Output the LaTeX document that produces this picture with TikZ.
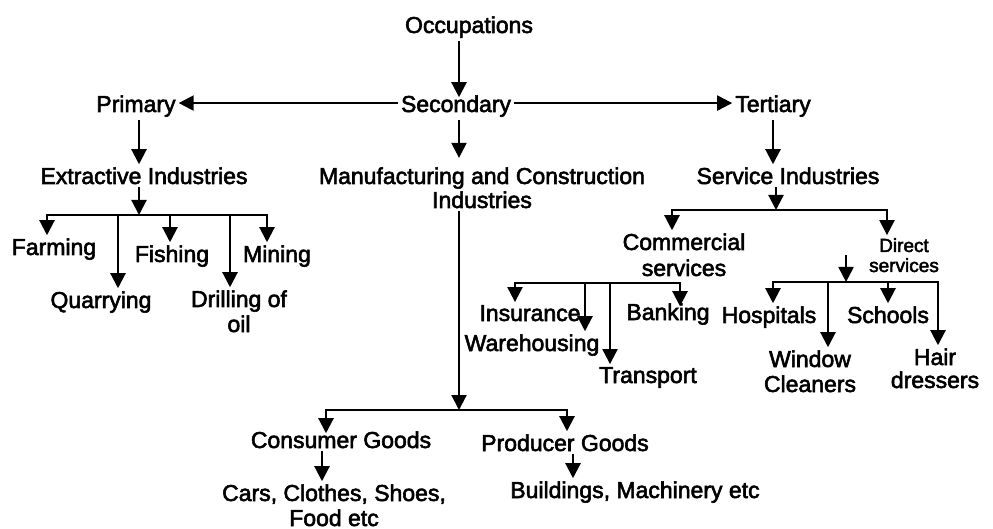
\documentclass[tikz,border=0pt]{standalone}
\usepackage{fontspec}
\setmainfont{Liberation Sans}[UprightFeatures={FakeBold=2.5}]
\usetikzlibrary{arrows.meta}

\begin{document}
\begin{tikzpicture}[
	x=1pt,y=-1pt,
	>={Triangle[width=15pt,length=15pt]},
	line width=2.2pt,
	every node/.style={
		inner sep=2pt, % labels sit on the baseline of their last line
		anchor=base,
		align=center,
		font=\fontsize{23}{25}\selectfont,
	},
	small/.style={font=\fontsize{19}{20}\selectfont},
]
	\useasboundingbox (0,0) rectangle (993,529);

	\node (occ)  at (469,33)  {Occupations};
	\node (prim) at (136,112) {Primary};
	\node (sec)  at (456,112) {Secondary};
	\node (tert) at (773,112) {Tertiary};

	\node (extr) at (144,184) {Extractive Industries};
	\node (manu) at (482,208) [font=\fontsize{23}{24}\selectfont]
		{Manufacturing and Construction\\Industries};
	\node (serv) at (788,184) {Service Industries};

	\node (farm) at (54,255)  {Farming};
	\node (quar) at (101,308) {Quarrying};
	\node (fish) at (172,262) {Fishing};
	\node (dril) at (239,332) {Drilling of\\oil};
	\node (mine) at (277,262) {Mining};

	\node (comm) at (684,276) [font=\fontsize{23}{26}\selectfont]
		{Commercial\\services};
	\node (dirc) at (904,272) [small] {Direct\\services};
	\node (insu) at (530,321) {Insurance};
	\node (ware) at (532,351) {Warehousing};
	\node (tran) at (648,383) {Transport};
	\node (bank) at (668,320) {Banking};
	\node (hosp) at (769,323) {Hospitals};
	\node (wind) at (810,392) {Window\\Cleaners};
	\node (scho) at (888,323) {Schools};
	\node (hair) at (935,388) [font=\fontsize{23}{23}\selectfont]
		{Hair\\dressers};

	\node (cons) at (341,448) {Consumer Goods};
	\node (prod) at (565,451) {Producer Goods};
	\node (cars) at (334,526) {Cars, Clothes, Shoes,\\Food etc};
	\node (buil) at (635,498) {Buildings, Machinery etc};

	% branching points
	\coordinate (mb) at (459,410);
	\coordinate (eb) at (139,215);
	\coordinate (sb) at (776,210);
	\coordinate (cb) at (597,283);
	\coordinate (db) at (848,282);

	\draw[->] (occ.south -| mb) -- ([yshift=-5pt]sec.north -| mb);
	\draw[->] ([yshift=3pt]sec.west) -- ([yshift=3pt]sec.west -| prim.east);
	\draw[->] ([yshift=3pt]sec.east) -- ([yshift=3pt]sec.east -| tert.west);
	\draw[->] (prim.south -| eb) -- (extr.north -| eb);
	\draw[->] (sec.south -| mb) -- ++(0,38);
	\draw[->] (tert.south) -- (tert.south |- serv.north);

	\draw[->] (extr.south -| eb) -- (eb);
	\foreach \n/\s in {farm/-7,quar/17,fish/-2,dril/-9,mine/-10}
		\draw[->] (eb) -| ([xshift=\s pt]\n.north);

	\draw[->] (manu.south -| mb) -- (mb);
	\draw[->] (mb) -| ([xshift=-15pt,yshift=-5pt]cons.north);
	\draw[->] (mb) -| ([xshift=2pt]prod.north);
	\draw[->] ([xshift=-19pt]cons.south) -- ([xshift=-19pt]cons.south |- cars.north);
	\draw[->] ([xshift=8pt]prod.south) -- ([xshift=8pt]prod.south |- buil.north);

	\draw[->] (serv.south -| sb) -- (sb);
	\draw[->] (sb) -| ([xshift=-12pt]comm.north);
	\draw[->] (sb) -| ([xshift=-17pt]dirc.north);

	\foreach \n/\s in {insu/-15,ware/53,tran/-38}
		\draw[->] (cb) -| ([xshift=\s pt]\n.north);
	\draw[->] (cb) -| ([xshift=12pt,yshift=-6pt]bank.north);

	\draw[->] ([xshift=-20pt]dirc.west) -- ([xshift=-20pt]dirc.west |- db);
	\foreach \n/\s in {hosp/4,wind/18,scho/0,hair/3}
		\draw[->] (db) -| ([xshift=\s pt]\n.north);

\end{tikzpicture}
\end{document}
